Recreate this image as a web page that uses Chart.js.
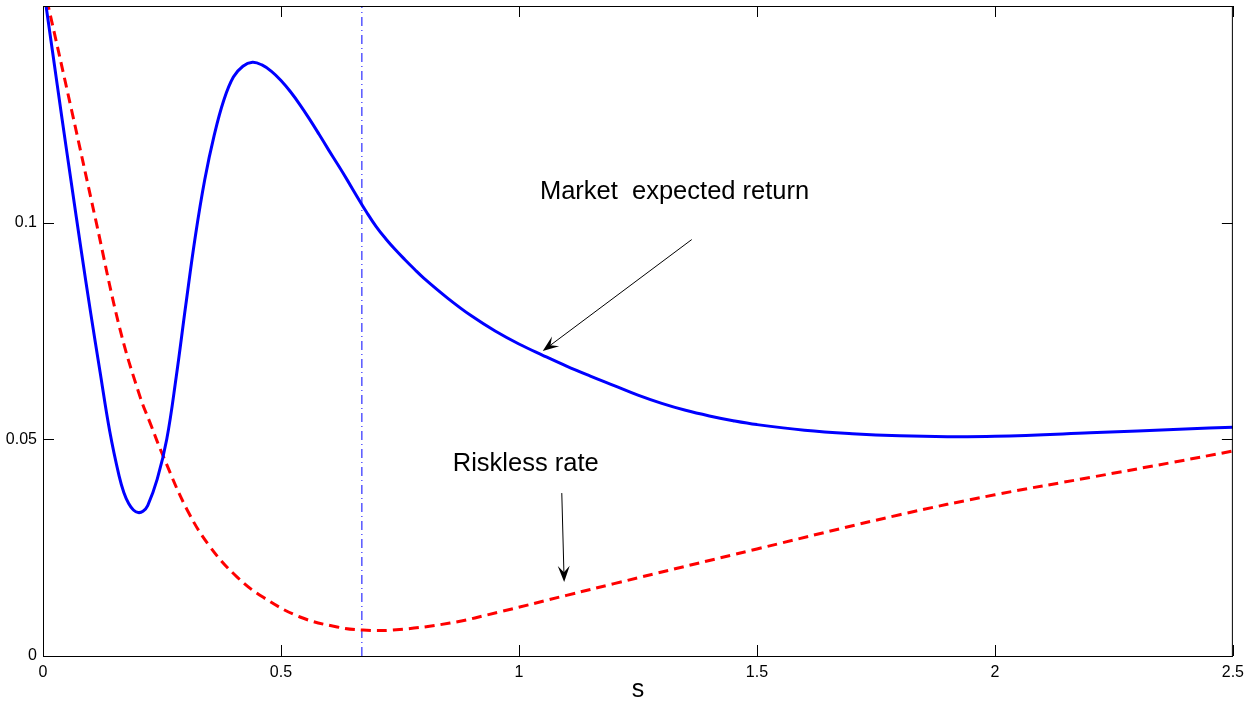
<!DOCTYPE html>
<html>
<head>
<meta charset="utf-8">
<script src="https://cdn.jsdelivr.net/npm/chart.js@4.4.1/dist/chart.umd.min.js"></script>
<style>
  html, body { margin: 0; padding: 0; background: #fff; }
  #wrap { width: 1251px; height: 705px; }
</style>
</head>
<body>
<div id="wrap"><canvas id="chart"></canvas></div>
<script>
// Market expected return (blue, solid)
const marketX = [0, 0.02, 0.04, 0.06, 0.08, 0.10, 0.12, 0.14, 0.16, 0.17, 0.18, 0.19, 0.20, 0.21, 0.22, 0.24, 0.26,
                 0.28, 0.30, 0.32, 0.34, 0.36, 0.38, 0.40, 0.42, 0.44, 0.46, 0.48,
                 0.50, 0.52, 0.54, 0.56, 0.58, 0.60, 0.62, 0.64, 0.66, 0.68, 0.70, 0.72, 0.74, 0.76, 0.78,
                 0.80, 0.85, 0.90, 0.95, 1.00, 1.05, 1.10, 1.15,
                 1.20, 1.25, 1.30, 1.35, 1.40, 1.45, 1.50, 1.60, 1.70, 1.80, 1.90, 2.00, 2.20, 2.40, 2.50];
const marketY = [0.155, 0.1395, 0.1240, 0.1088, 0.0938, 0.0793, 0.0655, 0.0520, 0.0415, 0.0377, 0.0352, 0.0337, 0.0331, 0.0334, 0.0347, 0.0408, 0.0500,
                 0.0645, 0.0810, 0.0968, 0.1100, 0.1203, 0.1283, 0.1336, 0.1361, 0.1370, 0.1364, 0.1349,
                 0.1328, 0.1302, 0.1272, 0.1239, 0.1204, 0.1168, 0.1133, 0.1097, 0.1060, 0.1024, 0.0991, 0.0963, 0.0938, 0.0915, 0.0893,
                 0.0872, 0.0826, 0.0785, 0.0750, 0.0720, 0.0694, 0.0669, 0.0646,
                 0.0624, 0.0602, 0.0583, 0.0567, 0.0554, 0.0543, 0.0534, 0.0521, 0.0513, 0.0508, 0.0506, 0.0507, 0.0515, 0.0524, 0.0528];

// Riskless rate (red, dashed)
const risklessX = [0, 0.011, 0.060, 0.110, 0.162, 0.204, 0.225, 0.253, 0.303, 0.351, 0.408, 0.462, 0.540,
                   0.618, 0.672, 0.735, 0.855, 0.960, 1.1, 1.2, 1.5, 1.8, 2.0, 2.2, 2.374, 2.5];
const risklessY = [0.155, 0.150, 0.126, 0.101, 0.0753, 0.0598, 0.0538, 0.0460, 0.0337, 0.0252, 0.0182, 0.0136, 0.0090,
                   0.0067, 0.0060, 0.0060, 0.0076, 0.0102, 0.0140, 0.0167, 0.0247, 0.0326, 0.0372, 0.0412, 0.0447, 0.0473];

// vertical dash-dot marker
const markerS = 0.670;

const xTicks = [0, 0.5, 1, 1.5, 2, 2.5];
const yTicks = [0, 0.05, 0.1];
const yMarks = [0, 0.05, 0.1, 0.15];

// text annotations and arrows, in data units
const labels = [
    { text: 'Market  expected return', x: 1.044, y: 0.1070 },
    { text: 'Riskless rate', x: 0.861, y: 0.0444 },
];
const arrows = [
    { x0: 1.363, y0: 0.0961, x1: 1.050, y1: 0.0704 },
    { x0: 1.090, y0: 0.0376, x1: 1.095, y1: 0.0171 },
];

const FONT = '"Liberation Sans", Arial, Helvetica, sans-serif';

function toPoints(xs, ys) {
    return xs.map((x, i) => ({ x: x, y: ys[i] }));
}

// box + inward ticks on all four sides, like matlab
const framePlugin = {
    id: 'frame',
    afterDatasetsDraw(chart) {
        const { ctx, chartArea: a, scales } = chart;
        ctx.save();
        ctx.strokeStyle = '#000';
        ctx.lineWidth = 1;
        ctx.strokeRect(a.left + 0.5, a.top + 0.5, a.right - a.left - 1, a.bottom - a.top);
        const len = 11;
        ctx.beginPath();
        for (const v of xTicks) {
            const px = Math.round(scales.x.getPixelForValue(v)) + 0.5;
            ctx.moveTo(px, a.bottom); ctx.lineTo(px, a.bottom - len);
            ctx.moveTo(px, a.top); ctx.lineTo(px, a.top + len);
        }
        for (const v of yMarks) {
            const py = Math.round(scales.y.getPixelForValue(v)) + 0.5;
            ctx.moveTo(a.left, py); ctx.lineTo(a.left + len, py);
            ctx.moveTo(a.right, py); ctx.lineTo(a.right - len, py);
        }
        ctx.stroke();

        // annotations
        ctx.fillStyle = '#000';
        ctx.font = '25.5px ' + FONT;
        ctx.textBaseline = 'middle';
        ctx.textAlign = 'left';
        for (const l of labels) {
            ctx.fillText(l.text, scales.x.getPixelForValue(l.x), scales.y.getPixelForValue(l.y));
        }
        for (const ar of arrows) {
            const x0 = scales.x.getPixelForValue(ar.x0), y0 = scales.y.getPixelForValue(ar.y0);
            const x1 = scales.x.getPixelForValue(ar.x1), y1 = scales.y.getPixelForValue(ar.y1);
            const ang = Math.atan2(y1 - y0, x1 - x0);
            const hl = 16, hw = 6;
            ctx.beginPath();
            ctx.moveTo(x0, y0);
            ctx.lineTo(x1 - Math.cos(ang) * 8, y1 - Math.sin(ang) * 8);
            ctx.lineWidth = 1;
            ctx.stroke();
            // concave arrow head
            const bx = x1 - Math.cos(ang) * hl, by = y1 - Math.sin(ang) * hl;
            const nx = x1 - Math.cos(ang) * hl * 0.6, ny = y1 - Math.sin(ang) * hl * 0.6;
            ctx.beginPath();
            ctx.moveTo(x1, y1);
            ctx.lineTo(bx + Math.sin(ang) * hw, by - Math.cos(ang) * hw);
            ctx.lineTo(nx, ny);
            ctx.lineTo(bx - Math.sin(ang) * hw, by + Math.cos(ang) * hw);
            ctx.closePath();
            ctx.fill();
        }
        ctx.restore();
    }
};

new Chart(document.getElementById('chart').getContext('2d'), {
    type: 'line',
    data: {
        datasets: [
            {
                label: 'Market expected return',
                data: toPoints(marketX, marketY),
                borderColor: '#0000ff',
                borderWidth: 3,
                pointRadius: 0,
                tension: 0.4,
                fill: false,
            },
            {
                label: 'Riskless rate',
                data: toPoints(risklessX, risklessY),
                borderColor: '#ff0000',
                borderWidth: 3,
                borderDash: [10, 6],
                pointRadius: 0,
                tension: 0.4,
                fill: false,
            },
            {
                label: 'marker',
                data: [{ x: markerS, y: 0 }, { x: markerS, y: 0.15 }],
                borderColor: '#0000ff',
                borderWidth: 1,
                borderDash: [9, 4, 1, 4],
                pointRadius: 0,
                fill: false,
            },
        ],
    },
    options: {
        responsive: true,
        maintainAspectRatio: false,
        animation: false,
        events: [],
        layout: { padding: { top: 6, right: 18, left: 0, bottom: 0 } },
        plugins: {
            legend: { display: false },
            tooltip: { enabled: false },
        },
        scales: {
            x: {
                type: 'linear',
                min: 0,
                max: 2.5,
                afterFit(scale) { scale.height = 49; },
                afterBuildTicks(scale) { scale.ticks = xTicks.map(v => ({ value: v })); },
                grid: { display: false, drawTicks: false },
                border: { display: false },
                ticks: {
                    padding: 7,
                    color: '#000',
                    font: { family: FONT, size: 16 },
                    maxRotation: 0,
                    callback: v => String(v),
                },
                title: {
                    display: true,
                    text: 's',
                    color: '#000',
                    font: { family: FONT, size: 25 },
                    padding: { top: 0, bottom: 0 },
                },
            },
            y: {
                type: 'linear',
                min: 0,
                max: 0.15,
                afterFit(scale) {
                    scale.width = 43;
                    scale.paddingTop = 0;
                    scale.paddingBottom = 0;
                },
                afterBuildTicks(scale) { scale.ticks = yTicks.map(v => ({ value: v })); },
                grid: { display: false, drawTicks: false },
                border: { display: false },
                ticks: {
                    padding: 6,
                    color: '#000',
                    font: { family: FONT, size: 16 },
                    callback: v => String(v),
                },
            },
        },
    },
    plugins: [framePlugin],
});
</script>
</body>
</html>
